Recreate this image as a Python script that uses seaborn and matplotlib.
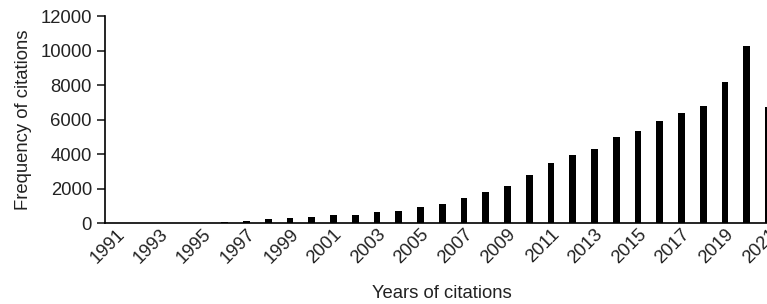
import pandas as pd
import seaborn as sns
import matplotlib.pyplot as plt

# Citation counts per year
years = [str(y) for y in range(1991, 2022)]
citations = [0, 0, 0, 0, 10, 60, 130, 230, 290, 365, 445, 465, 620, 715, 945,
             1084, 1430, 1777, 2127, 2783, 3478, 3923, 4310, 4986, 5333, 5894,
             6357, 6802, 8193, 10280, 6744]
yticks = [0, 2000, 4000, 6000, 8000, 10000, 12000]

df = pd.DataFrame({'year': years, 'citations': citations})

sns.set_style('ticks')
plt.rcParams['font.family'] = ['Liberation Sans', 'DejaVu Sans']

fig = plt.figure(figsize=(7.67, 3.04), dpi=100)
# axes run past the right edge so the last bar is cut off, as in the original
ax = fig.add_axes([0.137, 0.266, 0.879, 0.681])

sns.barplot(data=df, x='year', y='citations', color='black', width=0.31,
            saturation=1, linewidth=0, ax=ax)

ax.set_xlim(-0.5, 30.5)
ax.set_ylim(0, 12000)
ax.set_yticks(yticks)
ax.set_xticks(range(0, len(years), 2))
ax.set_xticklabels(years[::2], rotation=45, ha='right', rotation_mode='anchor')

ax.tick_params(axis='y', length=6, width=1.2, labelsize=13.3, colors='#222222')
ax.tick_params(axis='x', length=0, labelsize=13.3, colors='#222222', pad=2)
for s in ['left', 'bottom']:
    ax.spines[s].set_linewidth(1.2)
    ax.spines[s].set_color('black')
sns.despine(ax=ax)

ax.set_xlabel('Years of citations', fontsize=13.3, color='#222222', labelpad=13)
ax.set_ylabel('Frequency of citations', fontsize=13.3, color='#222222', labelpad=6)

fig.savefig('out.png', dpi=100)
